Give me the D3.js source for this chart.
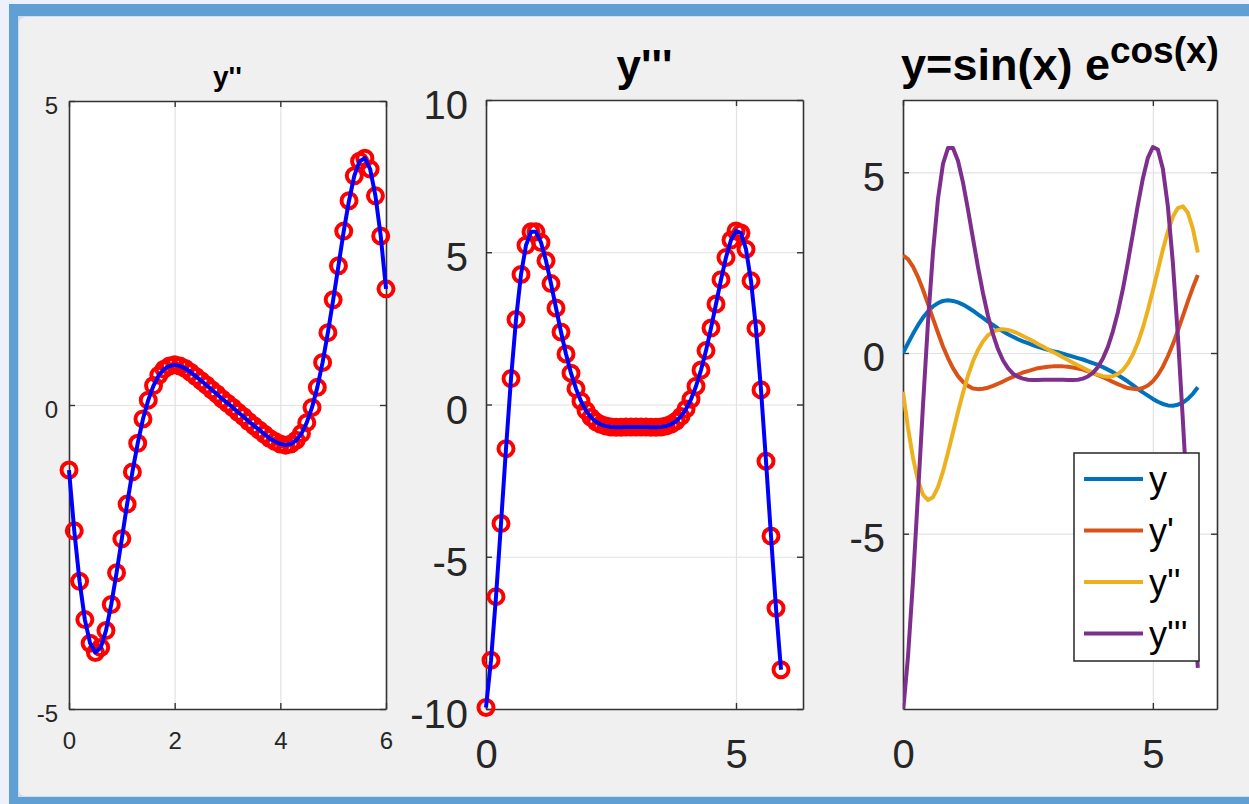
<!DOCTYPE html>
<html>
<head>
	<meta charset="utf-8">
	<title>y=sin(x) e^cos(x) e derivadas</title>
	<style>
		body { margin: 0; background: #eef0fb; }
		svg { display: block; }
		text { font-family: "Liberation Sans", Arial, sans-serif; }
	</style>
	<script src="https://cdn.jsdelivr.net/npm/d3@7/dist/d3.min.js"></script>
</head>
<body>
<svg width="1249" height="804"></svg>
<script>

	// valores, passo de 0.1 em x a partir de 0
	var yVals = [0, 0.27, 0.53, 0.77, 0.98, 1.15, 1.29, 1.38, 1.44, 1.46,
		1.44, 1.40, 1.34, 1.26, 1.17, 1.07, 0.97, 0.87, 0.78, 0.68,
		0.60, 0.52, 0.45, 0.38, 0.32, 0.27, 0.22, 0.17, 0.13, 0.09,
		0.05, 0.02, -0.02, -0.06, -0.10, -0.14, -0.18, -0.23, -0.28, -0.33,
		-0.39, -0.46, -0.53, -0.61, -0.70, -0.79, -0.89, -0.99, -1.09, -1.18,
		-1.27, -1.35, -1.41, -1.45, -1.46, -1.43, -1.37, -1.27, -1.13, -0.95];

	var d1Vals = [2.70, 2.60, 2.39, 2.10, 1.75, 1.36, 0.95, 0.56, 0.18, -0.14,
		-0.42, -0.64, -0.80, -0.91, -0.98, -1.00, -0.99, -0.96, -0.91, -0.85,
		-0.79, -0.72, -0.66, -0.60, -0.54, -0.50, -0.46, -0.42, -0.40, -0.38,
		-0.37, -0.37, -0.37, -0.38, -0.40, -0.43, -0.46, -0.51, -0.55, -0.61,
		-0.67, -0.73, -0.80, -0.86, -0.92, -0.97, -0.99, -1.00, -0.97, -0.90,
		-0.78, -0.61, -0.38, -0.09, 0.24, 0.62, 1.02, 1.43, 1.81, 2.16];

	var d2Vals = [-1.07, -2.07, -2.90, -3.53, -3.92, -4.07, -3.99, -3.71, -3.28, -2.76,
		-2.20, -1.63, -1.10, -0.63, -0.23, 0.08, 0.32, 0.49, 0.59, 0.64,
		0.66, 0.64, 0.60, 0.54, 0.47, 0.40, 0.33, 0.25, 0.18, 0.10,
		0.03, -0.04, -0.12, -0.19, -0.27, -0.34, -0.41, -0.48, -0.55, -0.60,
		-0.64, -0.66, -0.64, -0.58, -0.47, -0.29, -0.04, 0.29, 0.70, 1.19,
		1.73, 2.29, 2.86, 3.36, 3.77, 4.01, 4.06, 3.88, 3.44, 2.78,
		1.91];

	var d3Vals = [-9.95, -8.40, -6.31, -3.91, -1.45, 0.85, 2.79, 4.27, 5.23, 5.67,
		5.67, 5.32, 4.72, 3.97, 3.17, 2.38, 1.66, 1.03, 0.52, 0.11,
		-0.20, -0.42, -0.57, -0.66, -0.71, -0.74, -0.75, -0.75, -0.74, -0.74,
		-0.74, -0.74, -0.74, -0.75, -0.75, -0.74, -0.71, -0.65, -0.55, -0.39,
		-0.15, 0.17, 0.60, 1.13, 1.77, 2.51, 3.30, 4.10, 4.83, 5.40,
		5.70, 5.63, 5.10, 4.06, 2.50, 0.48, -1.86, -4.32, -6.69, -8.71];

	var legendNames = ["y", "y'", "y''", "y'''"];

	var ticks1X = [0, 2, 4, 6];
	var ticks1Y = [-5, 0, 5];
	var ticks2X = [0, 5];
	var ticks2Y = [-10, -5, 0, 5, 10];
	var ticks3X = [0, 5];
	var ticks3Y = [-5, 0, 5];

	function toPoints(vals) {
		return vals.map(function(v, i) { return {x: i / 10, y: v}; });
	}

	// rotulos como o matlab: hifen simples, sem casas decimais
	var fmt = function(d) { return String(d); };

	var svg = d3.select("svg");

	// moldura da janela
	svg.append("rect").attr("x", 9).attr("y", 4).attr("width", 1260).attr("height", 820).attr("fill", "#5f9fd4");
	svg.append("rect").attr("x", 18).attr("y", 16).attr("width", 1260).attr("height", 781).attr("fill", "#cfdeee");
	svg.append("rect").attr("x", 19).attr("y", 17).attr("width", 1260).attr("height", 779).attr("rx", 6).attr("fill", "#f0f0f0");

	function painel(p) {
		var g = svg.append("g");
		var w = p.right - p.left, h = p.bottom - p.top;

		var x = d3.scaleLinear().domain(p.xDomain).range([p.left, p.right]);
		var y = d3.scaleLinear().domain(p.yDomain).range([p.bottom, p.top]);

		g.append("rect")
			.attr("x", p.left).attr("y", p.top)
			.attr("width", w).attr("height", h)
			.attr("fill", "#fff");

		// grade
		g.append("g")
			.attr("transform", "translate(0," + p.bottom + ")")
			.call(d3.axisBottom(x).tickValues(p.xTicks).tickSize(-h).tickFormat(""))
			.call(function(a) {
				a.select(".domain").remove();
				a.selectAll("line").attr("stroke", "#e2e2e2").attr("stroke-width", 1.2);
			});
		g.append("g")
			.attr("transform", "translate(" + p.left + ",0)")
			.call(d3.axisLeft(y).tickValues(p.yTicks).tickSize(-w).tickFormat(""))
			.call(function(a) {
				a.select(".domain").remove();
				a.selectAll("line").attr("stroke", "#e2e2e2").attr("stroke-width", 1.2);
			});

		var estilo = function(a) {
			a.attr("font-size", p.fontSize).attr("font-family", null);
			a.select(".domain").attr("stroke", "#333").attr("stroke-width", 1.6);
			a.selectAll(".tick line").attr("stroke", "#333").attr("stroke-width", 1.4);
			a.selectAll(".tick text").attr("fill", "#262626");
		};

		g.append("g")
			.attr("transform", "translate(0," + p.bottom + ")")
			.call(d3.axisBottom(x).tickValues(p.xTicks).tickFormat(fmt).tickSizeInner(-6).tickSizeOuter(0))
			.call(estilo)
			.call(function(a) {
				a.selectAll(".tick text").attr("dy", null).attr("y", p.xLabelBase - p.bottom);
			});
		g.append("g")
			.attr("transform", "translate(0," + p.top + ")")
			.call(d3.axisTop(x).tickValues(p.xTicks).tickSizeInner(-6).tickSizeOuter(0).tickFormat(""))
			.call(estilo);
		g.append("g")
			.attr("transform", "translate(" + p.left + ",0)")
			.call(d3.axisLeft(y).tickValues(p.yTicks).tickFormat(fmt).tickSizeInner(-6).tickSizeOuter(0))
			.call(estilo)
			.call(function(a) {
				a.selectAll(".tick text").attr("dy", null).attr("x", p.yLabelRight - p.left).attr("y", p.yLabelDy);
			});
		g.append("g")
			.attr("transform", "translate(" + p.right + ",0)")
			.call(d3.axisRight(y).tickValues(p.yTicks).tickSizeInner(-6).tickSizeOuter(0).tickFormat(""))
			.call(estilo);

		var clipId = "clip" + p.left;
		svg.append("clipPath").attr("id", clipId)
			.append("rect")
			.attr("x", p.left).attr("y", p.top)
			.attr("width", w).attr("height", h);

		return {g: g, x: x, y: y, clip: "url(#" + clipId + ")"};
	}

	function marcadoresELinha(ax, pontos) {
		ax.g.append("g")
			.selectAll("circle")
			.data(pontos)
			.enter().append("circle")
			.attr("cx", function(d) { return ax.x(d.x); })
			.attr("cy", function(d) { return ax.y(d.y); })
			.attr("r", 7.5)
			.attr("fill", "none")
			.attr("stroke", "#ff0000")
			.attr("stroke-width", 4);

		ax.g.append("path")
			.datum(pontos)
			.attr("fill", "none")
			.attr("stroke", "#0000ff")
			.attr("stroke-width", 4)
			.attr("stroke-linejoin", "round")
			.attr("d", d3.line()
				.x(function(d) { return ax.x(d.x); })
				.y(function(d) { return ax.y(d.y); }));
	}

	// subplot 1: y''
	var ax1 = painel({left: 69, right: 386, top: 101, bottom: 709,
		xDomain: [0, 6], yDomain: [-5, 5], xTicks: ticks1X, yTicks: ticks1Y,
		fontSize: 24, yLabelRight: 58, yLabelDy: 12, xLabelBase: 749});
	marcadoresELinha(ax1, toPoints(d2Vals));
	svg.append("text")
		.attr("x", 227.5).attr("y", 86)
		.attr("text-anchor", "middle")
		.attr("font-size", 28).attr("font-weight", "bold")
		.text("y''");

	// subplot 2: y'''
	var ax2 = painel({left: 486, right: 803, top: 100, bottom: 709,
		xDomain: [0, 6.34], yDomain: [-10, 10], xTicks: ticks2X, yTicks: ticks2Y,
		fontSize: 40, yLabelRight: 468, yLabelDy: 18.5, xLabelBase: 768});
	marcadoresELinha(ax2, toPoints(d3Vals));
	svg.append("text")
		.attr("x", 644.5).attr("y", 81)
		.attr("text-anchor", "middle")
		.attr("font-size", 44).attr("font-weight", "bold")
		.text("y'''");

	// subplot 3: todas as curvas
	var ax3 = painel({left: 903, right: 1217, top: 100, bottom: 709,
		xDomain: [0, 2 * Math.PI], yDomain: [-9.85, 7.0], xTicks: ticks3X, yTicks: ticks3Y,
		fontSize: 40, yLabelRight: 885, yLabelDy: 18, xLabelBase: 768});

	var cores = ["#0072bd", "#d95319", "#edb120", "#7e2f8e"];
	var series = [yVals, d1Vals, d2Vals.slice(0, 60), d3Vals];

	var linha3 = d3.line()
		.x(function(d) { return ax3.x(d.x); })
		.y(function(d) { return ax3.y(d.y); });

	ax3.g.append("g")
		.attr("clip-path", ax3.clip)
		.selectAll("path")
		.data(series)
		.enter().append("path")
		.attr("fill", "none")
		.attr("stroke", function(d, i) { return cores[i]; })
		.attr("stroke-width", 4)
		.attr("stroke-linejoin", "round")
		.attr("d", function(d) { return linha3(toPoints(d)); });

	var titulo3 = svg.append("text")
		.attr("x", 1060).attr("y", 80)
		.attr("text-anchor", "middle")
		.attr("font-size", 45).attr("font-weight", "bold");
	titulo3.append("tspan").text("y=sin(x) e");
	titulo3.append("tspan").attr("dy", -17).attr("font-size", 37).text("cos(x)");

	// legenda
	var leg = ax3.g.append("g").attr("transform", "translate(1074,453)");
	leg.append("rect")
		.attr("width", 125).attr("height", 208)
		.attr("fill", "#fff")
		.attr("stroke", "#262626")
		.attr("stroke-width", 1.5);

	var item = leg.selectAll("g.item")
		.data(legendNames)
		.enter().append("g")
		.attr("class", "item")
		.attr("transform", function(d, i) { return "translate(0," + (26 + i * 51.5) + ")"; });

	item.append("line")
		.attr("x1", 10).attr("x2", 69)
		.attr("stroke", function(d, i) { return cores[i]; })
		.attr("stroke-width", 4);

	item.append("text")
		.attr("x", 75).attr("y", 13)
		.attr("font-size", 36)
		.attr("fill", "#000")
		.text(function(d) { return d; });

</script>
</body>
</html>
